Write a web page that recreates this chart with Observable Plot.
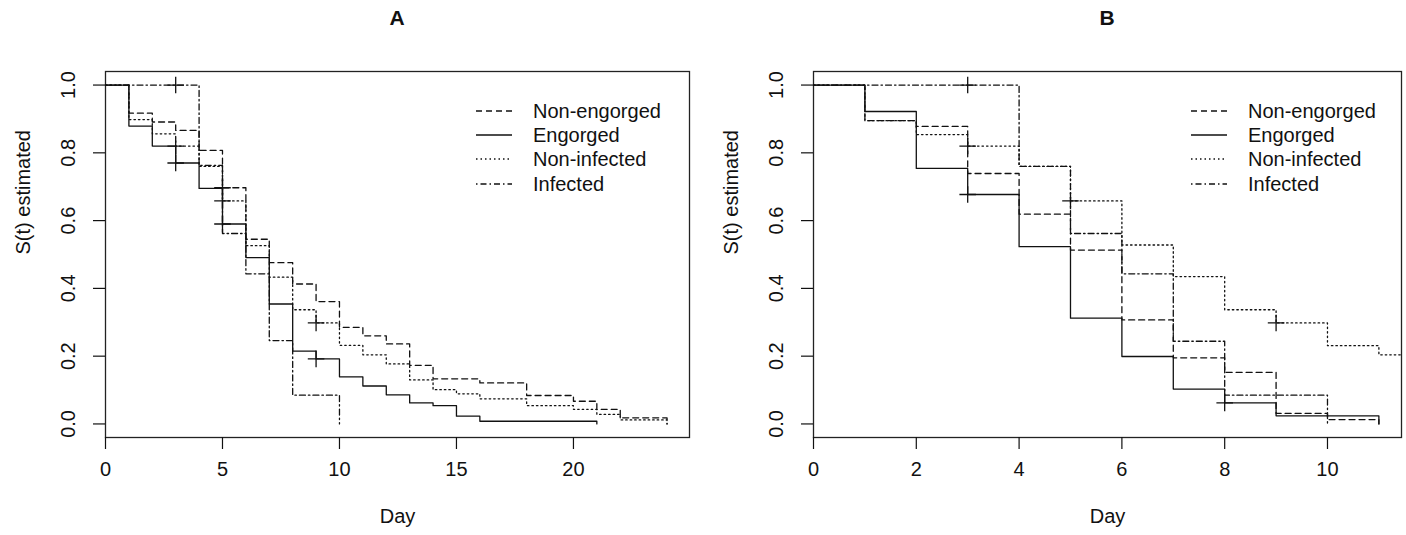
<!DOCTYPE html>
<html>
<head>
<meta charset="utf-8">
<script src="https://cdn.jsdelivr.net/npm/d3@7"></script>
<script src="https://cdn.jsdelivr.net/npm/@observablehq/plot@0.6"></script>
<style>
  body { margin: 0; background: #fff; font-family: "Liberation Sans", Arial, sans-serif; }
  #wrap { display: flex; width: 1406px; height: 535px; }
  .panel { position: relative; width: 703px; height: 535px; }
  .title { height: 36px; line-height: 36px; font-weight: bold; font-size: 21px; text-align: center; color: #111; box-sizing: border-box; }
  .legend { position: absolute; font-size: 20px; color: #111; }
  .legend .row { display: flex; align-items: center; height: 24.4px; line-height: 24.4px; white-space: nowrap; }
  .legend svg { display: block; margin-right: 21px; }
  svg { overflow: visible; }
</style>
</head>
<body>
<div id="wrap"></div>
<script>
// ---------- data ----------
const seriesNames = ["Non-engorged", "Engorged", "Non-infected", "Infected"];
const yTicks = [0, 0.2, 0.4, 0.6, 0.8, 1.0];

// Panel A
const aTitle = "A";
const aXTicks = [0, 5, 10, 15, 20];
const aXLimit = 24;
const aNonEngorgedDay  = [0, 1, 2, 3, 4, 5, 6, 7, 8, 9, 10, 11, 12, 13, 14, 16, 18, 20, 21, 22, 24];
const aNonEngorgedSurv = [1, 0.917, 0.891, 0.866, 0.807, 0.697, 0.545, 0.476, 0.413, 0.361, 0.285, 0.260, 0.236, 0.173, 0.133, 0.121, 0.084, 0.067, 0.043, 0.018, 0];
const aEngorgedDay  = [0, 1, 2, 3, 4, 5, 6, 7, 8, 9, 10, 11, 12, 13, 14, 15, 16, 21];
const aEngorgedSurv = [1, 0.879, 0.820, 0.770, 0.695, 0.590, 0.491, 0.354, 0.215, 0.192, 0.139, 0.112, 0.086, 0.062, 0.054, 0.023, 0.008, 0];
const aNonInfectedDay  = [0, 1, 2, 3, 4, 5, 6, 7, 8, 9, 10, 11, 12, 13, 14, 15, 16, 18, 20, 21, 22, 24];
const aNonInfectedSurv = [1, 0.898, 0.856, 0.820, 0.760, 0.658, 0.526, 0.433, 0.337, 0.298, 0.232, 0.204, 0.177, 0.130, 0.101, 0.089, 0.074, 0.054, 0.043, 0.028, 0.012, 0];
const aInfectedDay  = [0, 4, 5, 6, 7, 8, 10];
const aInfectedSurv = [1, 0.763, 0.562, 0.443, 0.246, 0.085, 0];
const aCensorSeries = ["Infected", "Non-infected", "Engorged", "Non-engorged", "Non-infected", "Engorged", "Non-infected", "Engorged"];
const aCensorDay    = [3, 3, 3, 5, 5, 5, 9, 9];
const aCensorSurv   = [1.0, 0.82, 0.77, 0.697, 0.658, 0.59, 0.298, 0.192];

// Panel B
const bTitle = "B";
const bXTicks = [0, 2, 4, 6, 8, 10];
const bXLimit = 11;
const bNonEngorgedDay  = [0, 1, 2, 3, 4, 5, 6, 7, 8, 9, 10, 11];
const bNonEngorgedSurv = [1, 0.895, 0.878, 0.739, 0.619, 0.513, 0.307, 0.195, 0.152, 0.031, 0.013, 0];
const bEngorgedDay  = [0, 1, 2, 3, 4, 5, 6, 7, 8, 9, 11];
const bEngorgedSurv = [1, 0.922, 0.754, 0.677, 0.523, 0.312, 0.199, 0.103, 0.062, 0.024, 0];
const bNonInfectedDay  = [0, 1, 2, 3, 4, 5, 6, 7, 8, 9, 10, 11, 12];
const bNonInfectedSurv = [1, 0.895, 0.854, 0.820, 0.760, 0.658, 0.528, 0.435, 0.337, 0.298, 0.231, 0.204, 0.204];
const bInfectedDay  = [0, 4, 5, 6, 7, 8, 10];
const bInfectedSurv = [1, 0.760, 0.562, 0.443, 0.244, 0.085, 0];
const bCensorSeries = ["Infected", "Non-infected", "Engorged", "Non-infected", "Engorged", "Non-infected"];
const bCensorDay    = [3, 3, 3, 5, 8, 9];
const bCensorSurv   = [1.0, 0.82, 0.677, 0.658, 0.062, 0.298];

// ---------- styles ----------
const ink = "#111";
const dash = {
  "Non-engorged": "6,4",
  "Engorged": null,
  "Non-infected": "1.5,3",
  "Infected": "1.5,3,6,3"
};
const font = "Liberation Sans, Arial, sans-serif";

function rows(days, surv) { return days.map((d, i) => ({day: d, s: surv[i]})); }

function makePanel({title, curves, censor, xTicks, xLimit, ml, mr, legendLeft}) {
  const panel = document.createElement("div");
  panel.className = "panel";
  const t = document.createElement("div");
  t.className = "title";
  t.style.paddingLeft = ml + "px";
  t.style.paddingRight = mr + "px";
  t.textContent = title;
  panel.appendChild(t);

  const marks = [
    Plot.frame({stroke: "#222", strokeWidth: 1.3}),
    Plot.axisX({ticks: xTicks, tickSize: 12, tickPadding: 12, tickFormat: d => String(d), label: null, strokeWidth: 1.2}),
    Plot.axisY({ticks: yTicks, tickSize: 12, tickPadding: 19, tickRotate: -90, tickFormat: d3.format(".1f"), label: null, strokeWidth: 1.2}),
    Plot.text(["Day"], {frameAnchor: "bottom", dy: 85, text: d => d, fontSize: 20, fill: ink}),
    Plot.text(["S(t) estimated"], {frameAnchor: "left", dx: -82, rotate: -90, text: d => d, fontSize: 20, fill: ink})
  ];
  for (const name of seriesNames) {
    const c = curves[name];
    const opts = {x: "day", y: "s", curve: "step-after", stroke: ink, strokeWidth: 1.3, clip: true};
    if (dash[name]) opts.strokeDasharray = dash[name];
    marks.push(Plot.line(rows(c.day, c.surv), opts));
  }
  const cens = censor.day.map((d, i) => ({day: d, s: censor.surv[i], series: censor.series[i]}));
  marks.push(Plot.dot(cens, {x: "day", y: "s", symbol: "plus", r: 5.4, stroke: ink, strokeWidth: 1.3, fill: "none"}));

  const svg = Plot.plot({
    width: 703,
    height: 499,
    marginTop: 35,
    marginBottom: 98,
    marginLeft: ml,
    marginRight: mr,
    style: {fontFamily: font, fontSize: "20px", color: ink, background: "#fff", overflow: "visible"},
    x: {domain: [0, xLimit * 1.04]},
    y: {domain: [-0.04, 1.04]},
    marks
  });
  panel.appendChild(svg);

  // legend (inside plot region, top right)
  const lg = document.createElement("div");
  lg.className = "legend";
  lg.style.left = legendLeft + "px";
  lg.style.top = "98.5px";
  for (const name of seriesNames) {
    const r = document.createElement("div");
    r.className = "row";
    const s = d3.create("svg").attr("width", 36).attr("height", 24);
    const ln = s.append("line").attr("x1", 0).attr("x2", 36).attr("y1", 12).attr("y2", 12)
      .attr("stroke", ink).attr("stroke-width", 1.3);
    if (dash[name]) ln.attr("stroke-dasharray", dash[name]);
    r.appendChild(s.node());
    const sp = document.createElement("span");
    sp.textContent = name;
    r.appendChild(sp);
    lg.appendChild(r);
  }
  panel.appendChild(lg);
  return panel;
}

const wrap = document.getElementById("wrap");
wrap.appendChild(makePanel({
  title: aTitle,
  curves: {
    "Non-engorged": {day: aNonEngorgedDay, surv: aNonEngorgedSurv},
    "Engorged": {day: aEngorgedDay, surv: aEngorgedSurv},
    "Non-infected": {day: aNonInfectedDay, surv: aNonInfectedSurv},
    "Infected": {day: aInfectedDay, surv: aInfectedSurv}
  },
  censor: {series: aCensorSeries, day: aCensorDay, surv: aCensorSurv},
  xTicks: aXTicks, xLimit: aXLimit, ml: 105, mr: 14, legendLeft: 476
}));
wrap.appendChild(makePanel({
  title: bTitle,
  curves: {
    "Non-engorged": {day: bNonEngorgedDay, surv: bNonEngorgedSurv},
    "Engorged": {day: bEngorgedDay, surv: bEngorgedSurv},
    "Non-infected": {day: bNonInfectedDay, surv: bNonInfectedSurv},
    "Infected": {day: bInfectedDay, surv: bInfectedSurv}
  },
  censor: {series: bCensorSeries, day: bCensorDay, surv: bCensorSurv},
  xTicks: bXTicks, xLimit: bXLimit, ml: 110, mr: 5, legendLeft: 488
}));
</script>
</body>
</html>
